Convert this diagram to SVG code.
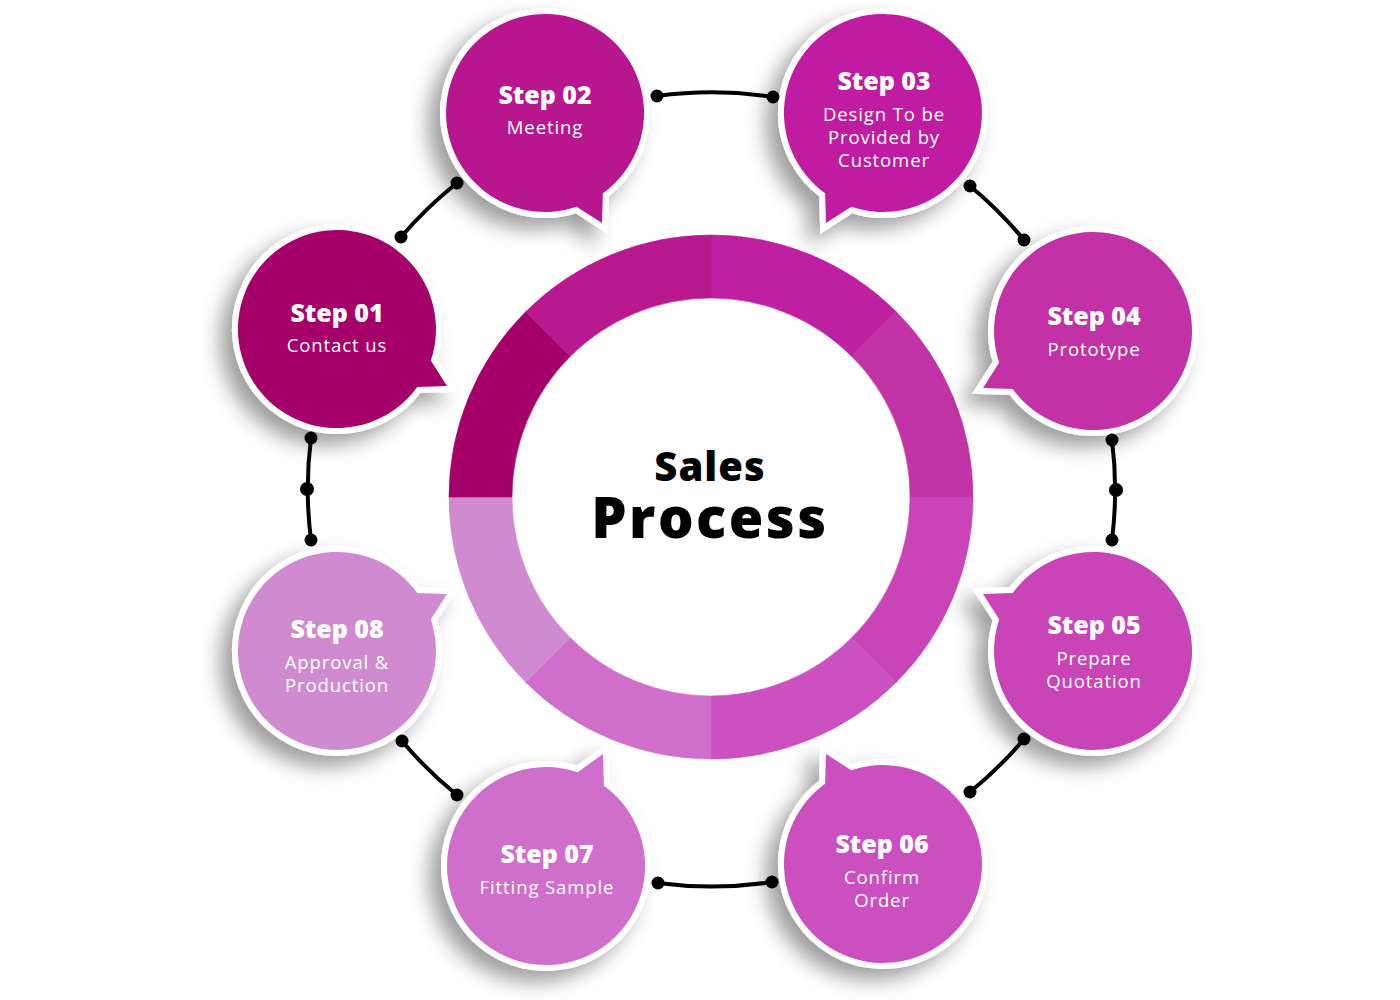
<svg xmlns="http://www.w3.org/2000/svg" width="1400" height="1000" viewBox="0 0 1400 1000">
<defs>
<filter id="sh" x="-30%" y="-30%" width="160%" height="160%">
<feGaussianBlur in="SourceAlpha" stdDeviation="10"/>
<feOffset dx="-12" dy="11" result="b"/>
<feFlood flood-color="#000" flood-opacity="0.38"/>
<feComposite in2="b" operator="in"/>
<feMerge><feMergeNode/><feMergeNode in="SourceGraphic"/></feMerge>
</filter>
<style>
.bub{stroke:#fff;stroke-width:12;paint-order:stroke fill;stroke-linejoin:miter;stroke-miterlimit:10;filter:url(#sh)}
.t{font-family:"Open Sans","Liberation Sans",sans-serif;font-weight:800;font-size:25px;fill:#fff;text-anchor:middle}
.s{font-family:"Open Sans","Liberation Sans",sans-serif;font-weight:400;font-size:18.5px;fill:#fff;text-anchor:middle;letter-spacing:0.9px}
.seg{stroke-width:0.6}
.con path{fill:none;stroke:#000;stroke-width:4;stroke-linecap:round}
.con circle{fill:#000}
.c{font-family:"Open Sans","Liberation Sans",sans-serif;font-weight:800;fill:#000;text-anchor:middle}
</style>
</defs>
<rect width="1400" height="1000" fill="#fff"/>

<g id="ring">
<path class="seg" fill="#BF1FA1" stroke="#BF1FA1" d="M711,235 A262,262 0 0 1 896.3,311.7 L851.7,356.3 A199,199 0 0 0 711,298 Z"/>
<path class="seg" fill="#C233A6" stroke="#C233A6" d="M896.3,311.7 A262,262 0 0 1 973,497 L910,497 A199,199 0 0 0 851.7,356.3 Z"/>
<path class="seg" fill="#C945B7" stroke="#C945B7" d="M973,497 A262,262 0 0 1 896.3,682.3 L851.7,637.7 A199,199 0 0 0 910,497 Z"/>
<path class="seg" fill="#CC50C0" stroke="#CC50C0" d="M896.3,682.3 A262,262 0 0 1 711,759 L711,696 A199,199 0 0 0 851.7,637.7 Z"/>
<path class="seg" fill="#D06ECB" stroke="#D06ECB" d="M711,759 A262,262 0 0 1 525.7,682.3 L570.3,637.7 A199,199 0 0 0 711,696 Z"/>
<path class="seg" fill="#D08BD0" stroke="#D08BD0" d="M525.7,682.3 A262,262 0 0 1 449,497 L512,497 A199,199 0 0 0 570.3,637.7 Z"/>
<path class="seg" fill="#A6006B" stroke="#A6006B" d="M449,497 A262,262 0 0 1 525.7,311.7 L570.3,356.3 A199,199 0 0 0 512,497 Z"/>
<path class="seg" fill="#B8198F" stroke="#B8198F" d="M525.7,311.7 A262,262 0 0 1 711,235 L711,298 A199,199 0 0 0 570.3,356.3 Z"/>
<text class="c" x="710" y="481" font-size="40" letter-spacing="1">Sales</text>
<text class="c" x="710" y="538" font-size="56" letter-spacing="2.5">Process</text>
</g>

<g id="step01">
<path class="bub" fill="#A6006B" d="M430.8,360.6 L447,386 L417.3,386.9 A99,99 0 1 1 430.8,360.6 Z"/>
<text class="t" x="337" y="322">Step 01</text>
<text class="s" x="337" y="352">Contact us</text>
</g>
<g id="step02">
<path class="bub" fill="#B8198F" d="M602.9,193.3 L602,223 L576.6,206.8 A99,99 0 1 1 602.9,193.3 Z"/>
<text class="t" x="545" y="104">Step 02</text>
<text class="s" x="545" y="134">Meeting</text>
</g>
<g id="step03">
<path class="bub" fill="#BF1FA1" d="M851.4,206.8 L826,223 L825.1,193.3 A99,99 0 1 1 851.4,206.8 Z"/>
<text class="t" x="884" y="90">Step 03</text>
<text class="s" x="884" y="121">Design To be</text>
<text class="s" x="884" y="144">Provided by</text>
<text class="s" x="884" y="167">Customer</text>
</g>
<g id="step04">
<path class="bub" fill="#C233A6" d="M1012.7,388.9 L983,388 L999.2,362.6 A99,99 0 1 1 1012.7,388.9 Z"/>
<text class="t" x="1094" y="325">Step 04</text>
<text class="s" x="1094" y="356">Prototype</text>
</g>
<g id="step05">
<path class="bub" fill="#C945B7" d="M999.2,619.4 L983,594 L1012.7,593.1 A99,99 0 1 1 999.2,619.4 Z"/>
<text class="t" x="1094" y="634">Step 05</text>
<text class="s" x="1094" y="665">Prepare</text>
<text class="s" x="1094" y="688">Quotation</text>
</g>
<g id="step06">
<path class="bub" fill="#CC50C0" d="M825.1,783.7 L826,754 L851.4,770.2 A99,99 0 1 1 825.1,783.7 Z"/>
<text class="t" x="882" y="853">Step 06</text>
<text class="s" x="882" y="884">Confirm</text>
<text class="s" x="882" y="907">Order</text>
</g>
<g id="step07">
<path class="bub" fill="#D06ECB" d="M577.6,772.2 L603,754 L603.9,785.7 A99,99 0 1 1 577.6,772.2 Z"/>
<text class="t" x="547" y="863">Step 07</text>
<text class="s" x="547" y="894">Fitting Sample</text>
</g>
<g id="step08">
<path class="bub" fill="#D08BD0" d="M417.3,593.1 L447,594 L430.8,619.4 A99,99 0 1 1 417.3,593.1 Z"/>
<text class="t" x="337" y="638">Step 08</text>
<text class="s" x="337" y="669">Approval &amp;</text>
<text class="s" x="337" y="692">Production</text>
</g>

<g id="connectors" class="con">
<path d="M401,237 A402,402 0 0 1 457,183"/>
<circle cx="401" cy="237" r="6.5"/><circle cx="457" cy="183" r="6.5"/>
<path d="M657,96 A402,402 0 0 1 773,97"/>
<circle cx="657" cy="96" r="6.5"/><circle cx="773" cy="97" r="6.5"/>
<path d="M970,186 A402,402 0 0 1 1024,240"/>
<circle cx="970" cy="186" r="6.5"/><circle cx="1024" cy="240" r="6.5"/>
<path d="M1112,440 A402,402 0 0 1 1112,540"/>
<circle cx="1112" cy="440" r="6.5"/><circle cx="1116" cy="490" r="7"/><circle cx="1112" cy="540" r="6.5"/>
<path d="M1024,739 A402,402 0 0 1 970,792"/>
<circle cx="1024" cy="739" r="6.5"/><circle cx="970" cy="792" r="6.5"/>
<path d="M772,882 A402,402 0 0 1 658,883"/>
<circle cx="772" cy="882" r="6.5"/><circle cx="658" cy="883" r="6.5"/>
<path d="M457,795 A402,402 0 0 1 402,741"/>
<circle cx="457" cy="795" r="6.5"/><circle cx="402" cy="741" r="6.5"/>
<path d="M311,540 A402,402 0 0 1 311,438"/>
<circle cx="311" cy="540" r="6.5"/><circle cx="307" cy="489" r="7"/><circle cx="311" cy="438" r="6.5"/>
</g>
</svg>
